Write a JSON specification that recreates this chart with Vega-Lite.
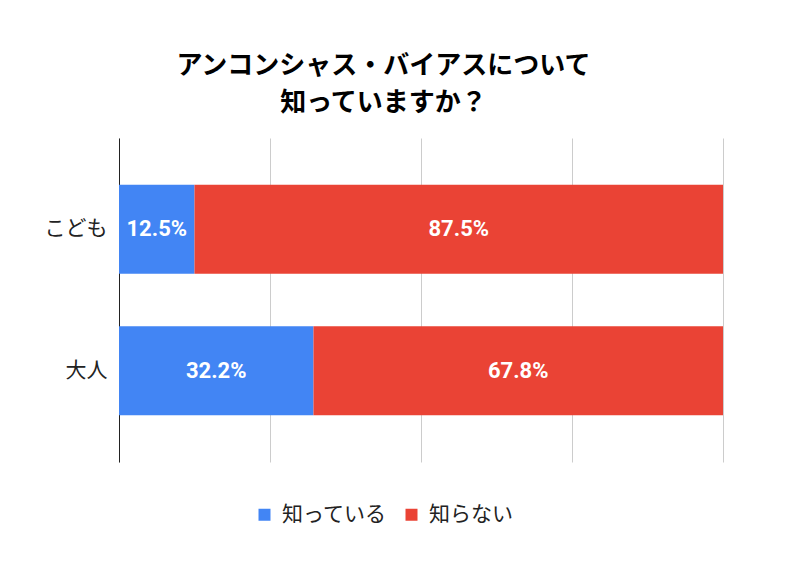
{
  "$schema": "https://vega.github.io/schema/vega-lite/v6.json",
  "autosize": {"type": "none"},
  "width": 604,
  "height": 324,
  "padding": {"left": 119, "top": 138, "right": 65, "bottom": 99},
  "background": "white",
  "title": {
    "text": ["アンコンシャス・バイアスについて", "知っていますか？"],
    "font": "Noto Sans CJK JP",
    "fontSize": 26,
    "fontWeight": "bold",
    "color": "#000000",
    "lineHeight": 37,
    "anchor": "middle",
    "frame": "bounds",
    "offset": 22
  },
  "data": {
    "values": [
      {"group": "こども", "answer": "知っている", "value": 0.125},
      {"group": "こども", "answer": "知らない", "value": 0.875},
      {"group": "大人", "answer": "知っている", "value": 0.322},
      {"group": "大人", "answer": "知らない", "value": 0.678}
    ]
  },
  "encoding": {
    "y": {
      "field": "group",
      "type": "nominal",
      "sort": ["こども", "大人"],
      "title": null,
      "scale": {"paddingInner": 0.371, "paddingOuter": 0.33},
      "axis": {
        "domain": true,
        "domainColor": "#222222",
        "domainWidth": 1,
        "ticks": false,
        "labelFont": "Noto Sans CJK JP",
        "labelFontSize": 21,
        "labelColor": "#222222",
        "labelPadding": 12,
        "labelAngle": 0
      }
    }
  },
  "layer": [
    {
      "mark": {"type": "bar"},
      "encoding": {
        "x": {
          "field": "value",
          "type": "quantitative",
          "stack": "zero",
          "scale": {"domain": [0, 1]},
          "title": null,
          "axis": {
            "values": [0, 0.25, 0.5, 0.75, 1],
            "labels": false,
            "ticks": false,
            "domain": false,
            "grid": true,
            "gridColor": "#cccccc",
            "gridWidth": 1
          }
        },
        "color": {
          "field": "answer",
          "type": "nominal",
          "scale": {"domain": ["知っている", "知らない"], "range": ["#4285F4", "#EA4335"]},
          "legend": {
            "title": null,
            "orient": "none",
            "direction": "horizontal",
            "legendX": 135,
            "legendY": 366,
            "symbolType": "square",
            "symbolSize": 144,
            "symbolStrokeWidth": 0,
            "labelFont": "Noto Sans CJK JP",
            "labelFontSize": 21,
            "labelColor": "#222222",
            "labelOffset": 7,
            "columnPadding": 14
          }
        },
        "order": {"field": "answer", "sort": "ascending"}
      }
    },
    {
      "mark": {"type": "text", "color": "white", "font": "Roboto", "fontSize": 22, "fontWeight": "bold", "align": "center", "baseline": "middle"},
      "encoding": {
        "x": {"field": "value", "type": "quantitative", "stack": "zero", "bandPosition": 0.5},
        "detail": {"field": "answer", "type": "nominal"},
        "order": {"field": "answer", "sort": "ascending"},
        "text": {"field": "value", "type": "quantitative", "format": ".1%"}
      }
    }
  ],
  "config": {
    "view": {"stroke": null}
  }
}
